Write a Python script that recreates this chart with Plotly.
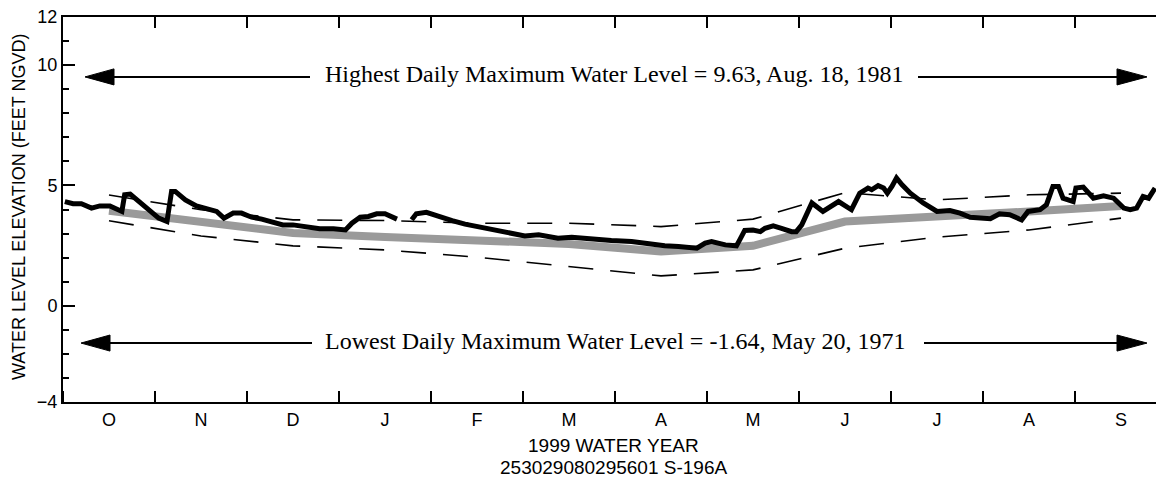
import plotly.graph_objects as go

# ---------------- data ----------------
months = ["O", "N", "D", "J", "F", "M", "A", "M", "J", "J", "A", "S"]

# daily maximum water level, 1999 water year (x in months from Oct 1)
daily_x = [0.02, 0.11, 0.20, 0.31, 0.40, 0.51, 0.64, 0.67, 0.73, 0.84, 0.95, 1.04, 1.13,
           1.18, 1.22, 1.33, 1.45, 1.56, 1.67, 1.75, 1.85, 1.94, 2.05, 2.16, 2.29, 2.39,
           2.50, 2.65, 2.79, 2.94, 3.07, 3.14, 3.23, 3.32, 3.41, 3.50, 3.59, 3.63, 3.71,
           3.79, 3.84, 3.95, 4.08, 4.23, 4.37, 4.51, 4.70, 4.84, 5.02, 5.17, 5.38, 5.53,
           5.75, 5.96, 6.18, 6.40, 6.54, 6.69, 6.89, 6.98, 7.05, 7.20, 7.32, 7.36, 7.41,
           7.50, 7.58, 7.63, 7.72, 7.81, 7.92, 7.97, 8.03, 8.14, 8.26, 8.43, 8.57, 8.66,
           8.75, 8.79, 8.86, 8.92, 8.96, 9.01, 9.06, 9.12, 9.21, 9.35, 9.50, 9.64, 9.75,
           9.86, 10.00, 10.08, 10.18, 10.29, 10.42, 10.49, 10.62, 10.69, 10.76, 10.82,
           10.87, 10.98, 11.01, 11.09, 11.20, 11.31, 11.42, 11.53, 11.60, 11.67, 11.74,
           11.80, 11.87]
daily_y = [4.33, 4.24, 4.24, 4.06, 4.15, 4.15, 3.92, 4.61, 4.64, 4.27, 3.92, 3.64, 3.50,
           4.75, 4.75, 4.40, 4.15, 4.02, 3.92, 3.64, 3.85, 3.85, 3.68, 3.60, 3.46, 3.36,
           3.36, 3.27, 3.20, 3.20, 3.15, 3.43, 3.68, 3.71, 3.82, 3.82, 3.68, 3.60, None,
           3.57, 3.82, 3.88, 3.71, 3.54, 3.39, 3.29, 3.13, 3.04, 2.90, 2.95, 2.81, 2.85,
           2.77, 2.71, 2.67, 2.53, 2.49, 2.46, 2.39, 2.60, 2.67, 2.53, 2.49, 2.77, 3.13,
           3.15, 3.08, 3.22, 3.32, 3.22, 3.08, 3.08, 3.36, 4.27, 3.92, 4.33, 3.99, 4.68,
           4.89, 4.82, 4.99, 4.89, 4.68, 4.96, 5.31, 5.03, 4.68, 4.27, 3.92, 3.96, 3.85,
           3.68, 3.64, 3.62, 3.82, 3.78, 3.57, 3.92, 3.99, 4.20, 4.96, 4.96, 4.47, 4.33,
           4.89, 4.93, 4.47, 4.57, 4.47, 4.06, 3.99, 4.06, 4.54, 4.47, 4.89]

# monthly statistics (plotted at mid-month)
monthly_median = [3.95, 3.45, 3.02, 2.86, 2.72, 2.57, 2.25, 2.49, 3.50, 3.68, 3.92, 4.15]
monthly_upper = [4.60, 3.99, 3.57, 3.54, 3.43, 3.43, 3.29, 3.60, 4.70, 4.40, 4.61, 4.68]
monthly_lower = [3.53, 2.90, 2.49, 2.32, 2.02, 1.63, 1.24, 1.49, 2.39, 2.85, 3.15, 3.64]

high_value, high_date = 9.63, "Aug. 18, 1981"
low_value, low_date = -1.64, "May 20, 1971"

y_tick_vals = [-4, 0, 5, 10, 12]
x_title = "1999 WATER YEAR"
station = "253029080295601 S-196A"
y_title = "WATER LEVEL ELEVATION (FEET NGVD)"

# ---------------- figure ----------------
W, H = 1156, 477
L, R, T, B = 63, 0, 17, 75
PX_PER_MONTH = 92.0
x_max = (W - L - R) / PX_PER_MONTH
mid = [i + 0.5 for i in range(len(months))]

SANS = "Liberation Sans, Arial, sans-serif"
SERIF = "Liberation Serif, Times New Roman, serif"

fig = go.Figure()
fig.add_trace(go.Scatter(x=mid, y=monthly_median, mode="lines",
                         line=dict(color="#9a9a9a", width=8), hoverinfo="skip"))
fig.add_trace(go.Scatter(x=mid, y=monthly_upper, mode="lines",
                         line=dict(color="black", width=1.6, dash="25px,17px"), hoverinfo="skip"))
fig.add_trace(go.Scatter(x=mid, y=monthly_lower, mode="lines",
                         line=dict(color="black", width=1.6, dash="25px,17px"), hoverinfo="skip"))
fig.add_trace(go.Scatter(x=daily_x, y=daily_y, mode="lines", connectgaps=False,
                         line=dict(color="black", width=5), hoverinfo="skip"))
# invisible trace so the top axis is drawn
fig.add_trace(go.Scatter(x=[0], y=[0], xaxis="x2", mode="markers",
                         marker=dict(opacity=0), hoverinfo="skip"))

# ----- reference-level arrows (decoration) -----
def px2x(px):
    return (px - L) / PX_PER_MONTH

def arrow_shapes(y_line, left_tip, left_base, left_end, right_start, right_base, right_tip):
    hh = 8.0 / 24.0  # half head height in y units
    shapes = []
    shapes.append(dict(type="line", xref="x", yref="y", x0=px2x(left_base), x1=px2x(left_end),
                       y0=y_line, y1=y_line, line=dict(color="black", width=2)))
    shapes.append(dict(type="line", xref="x", yref="y", x0=px2x(right_start), x1=px2x(right_base),
                       y0=y_line, y1=y_line, line=dict(color="black", width=2)))
    lt, lb = px2x(left_tip), px2x(left_base)
    shapes.append(dict(type="path", xref="x", yref="y",
                       path=f"M {lt},{y_line} L {lb},{y_line + hh} L {lb},{y_line - hh} Z",
                       fillcolor="black", line=dict(color="black", width=1)))
    rt, rb = px2x(right_tip), px2x(right_base)
    shapes.append(dict(type="path", xref="x", yref="y",
                       path=f"M {rt},{y_line} L {rb},{y_line + hh} L {rb},{y_line - hh} Z",
                       fillcolor="black", line=dict(color="black", width=1)))
    return shapes

shapes = []
shapes += arrow_shapes(9.51, 85, 114, 310, 918, 1117, 1147)
shapes += arrow_shapes(-1.55, 81, 110, 312, 924, 1117, 1147)

annotations = [
    dict(x=px2x(613.5), y=9.62, xref="x", yref="y", showarrow=False,
         text=f"Highest Daily Maximum Water Level = {high_value:.2f}, {high_date}",
         font=dict(family=SERIF, size=24, color="black"), xanchor="center", yanchor="middle"),
    dict(x=px2x(614.5), y=-1.46, xref="x", yref="y", showarrow=False,
         text=f"Lowest Daily Maximum Water Level = {low_value:.2f}, {low_date}",
         font=dict(family=SERIF, size=24, color="black"), xanchor="center", yanchor="middle"),
    dict(x=px2x(613), y=(H - B - 445) / (H - T - B), xref="x", yref="paper", showarrow=False,
         text=x_title, font=dict(family=SANS, size=19, color="black"),
         xanchor="center", yanchor="middle"),
    dict(x=px2x(613), y=(H - B - 467) / (H - T - B), xref="x", yref="paper", showarrow=False,
         text=station, font=dict(family=SANS, size=19, color="black"),
         xanchor="center", yanchor="middle"),
    dict(x=(18.5 - L) / (W - L - R), y=(H - B - 207.5) / (H - T - B), xref="paper", yref="paper",
         showarrow=False, text=y_title, textangle=-90,
         font=dict(family=SANS, size=18, color="black"), xanchor="center", yanchor="middle"),
]

fig.update_layout(
    width=W, height=H,
    margin=dict(l=L, r=R, t=T, b=B, pad=0),
    paper_bgcolor="white", plot_bgcolor="white",
    showlegend=False,
    shapes=shapes,
    annotations=annotations,
    xaxis=dict(
        range=[0, x_max], showgrid=False, zeroline=False,
        showline=True, linecolor="black", linewidth=2,
        tickmode="array", tickvals=mid, ticktext=months, ticks="",
        tickfont=dict(family=SANS, size=18, color="black"),
        minor=dict(tickmode="linear", tick0=0, dtick=1, ticks="inside", ticklen=11,
                   tickwidth=2, tickcolor="black", showgrid=False),
    ),
    xaxis2=dict(
        range=[0, x_max], overlaying="x", side="top", showgrid=False, zeroline=False,
        showline=True, linecolor="black", linewidth=2,
        tickmode="linear", tick0=0, dtick=1, ticks="inside", ticklen=11, tickwidth=2,
        tickcolor="black", showticklabels=False,
    ),
    yaxis=dict(
        range=[-4, 12], showgrid=False, zeroline=False,
        showline=True, linecolor="black", linewidth=2,
        tickmode="array", tickvals=y_tick_vals, ticks="inside", ticklen=12, tickwidth=2,
        tickcolor="black", tickfont=dict(family=SANS, size=18, color="black"),
        minor=dict(tickmode="linear", tick0=0, dtick=1, ticks="inside", ticklen=6,
                   tickwidth=2, tickcolor="black", showgrid=False),
    ),
)

fig.write_html(
    "out.html",
    config={"displayModeBar": False, "staticPlot": True},
    post_script="document.body.style.margin='0';document.body.style.overflow='hidden';",
)
